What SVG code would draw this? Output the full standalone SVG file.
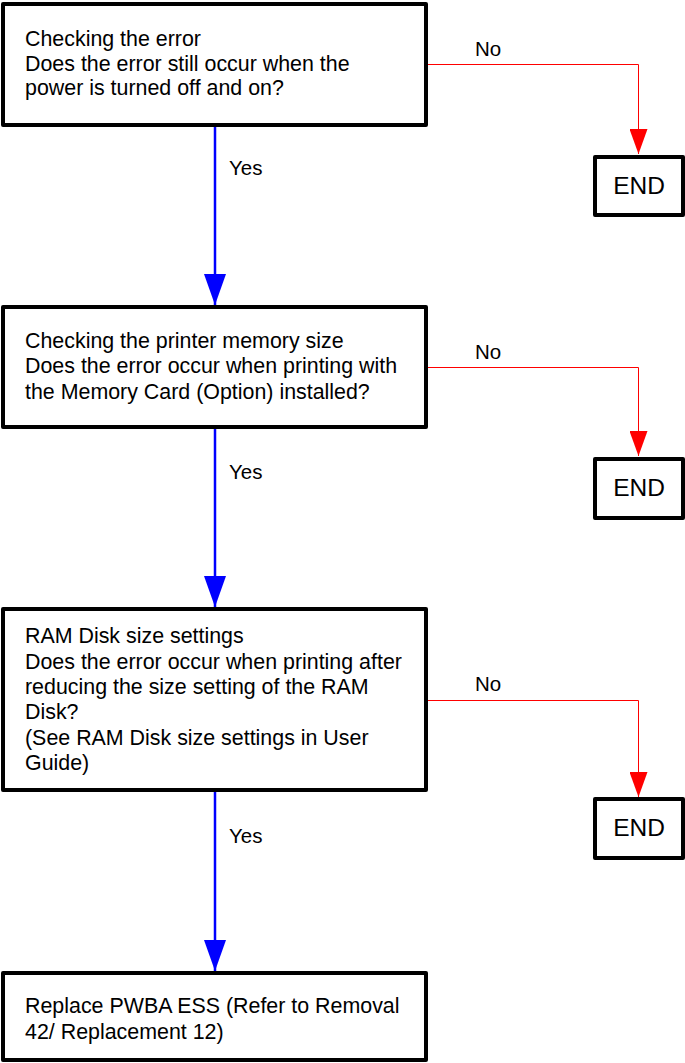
<svg xmlns="http://www.w3.org/2000/svg" width="685" height="1063" viewBox="0 0 685 1063">
<style>
.box{fill:#fff;stroke:#000;stroke-width:4;stroke-linejoin:round}
.t{font-family:"Liberation Sans",Arial,sans-serif;font-size:21.4px;fill:#000}
.lbl{font-family:"Liberation Sans",Arial,sans-serif;font-size:20.5px;fill:#000}
.end{font-family:"Liberation Sans",Arial,sans-serif;font-size:24.5px;fill:#000;text-anchor:middle}
.yes{fill:none;stroke:#0000ff;stroke-width:2.5}
.no{fill:none;stroke:#ff0000;stroke-width:1}
</style>
<defs>
<marker id="ab" markerUnits="userSpaceOnUse" viewBox="0 0 31 22" markerWidth="31" markerHeight="22" refX="31" refY="11" orient="auto"><path d="M0,0 L31,11 L0,22 z" fill="#0000ff"/></marker>
<marker id="ar" markerUnits="userSpaceOnUse" viewBox="0 0 25 18" markerWidth="25" markerHeight="18" refX="25" refY="9" orient="auto"><path d="M0,0 L25,9 L0,18 z" fill="#ff0000"/></marker>
</defs>
<rect width="685" height="1063" fill="#fff"/>
<g id="connectors">
<path class="yes" d="M215,127 V305" marker-end="url(#ab)"/>
<path class="yes" d="M215,429 V607" marker-end="url(#ab)"/>
<path class="yes" d="M215,792 V971" marker-end="url(#ab)"/>
<path class="no" d="M428,64.5 H638.5 V154" marker-end="url(#ar)"/>
<path class="no" d="M428,367.5 H638.5 V456" marker-end="url(#ar)"/>
<path class="no" d="M428,700.5 H638.5 V797" marker-end="url(#ar)"/>
<text class="lbl" x="229" y="175">Yes</text>
<text class="lbl" x="229" y="479">Yes</text>
<text class="lbl" x="229" y="843">Yes</text>
<text class="lbl" x="475" y="56">No</text>
<text class="lbl" x="475" y="359">No</text>
<text class="lbl" x="475" y="691">No</text>
</g>
<g id="n1">
<rect class="box" x="3" y="4" width="423" height="121"/>
<text class="t" x="25" y="46">Checking the error</text>
<text class="t" x="25" y="70.5">Does the error still occur when the</text>
<text class="t" x="25" y="94.5">power is turned off and on?</text>
</g>
<g id="end1">
<rect class="box" x="595" y="157" width="88" height="58"/>
<text class="end" x="639" y="194">END</text>
</g>
<g id="n2">
<rect class="box" x="3" y="307" width="423" height="120"/>
<text class="t" x="25" y="348">Checking the printer memory size</text>
<text class="t" x="25" y="373">Does the error occur when printing with</text>
<text class="t" x="25" y="398.5">the Memory Card (Option) installed?</text>
</g>
<g id="end2">
<rect class="box" x="595" y="459" width="88" height="59"/>
<text class="end" x="639" y="496">END</text>
</g>
<g id="n3">
<rect class="box" x="3" y="609" width="423" height="181"/>
<text class="t" x="25" y="643">RAM Disk size settings</text>
<text class="t" x="25" y="668.5">Does the error occur when printing after</text>
<text class="t" x="25" y="694">reducing the size setting of the RAM</text>
<text class="t" x="25" y="719">Disk?</text>
<text class="t" x="25" y="744.5">(See RAM Disk size settings in User</text>
<text class="t" x="25" y="770">Guide)</text>
</g>
<g id="end3">
<rect class="box" x="595" y="799" width="88" height="59"/>
<text class="end" x="639" y="836">END</text>
</g>
<g id="n4">
<rect class="box" x="3" y="973" width="423" height="87"/>
<text class="t" x="25" y="1013">Replace PWBA ESS (Refer to Removal</text>
<text class="t" x="25" y="1039">42/ Replacement 12)</text>
</g>
</svg>
